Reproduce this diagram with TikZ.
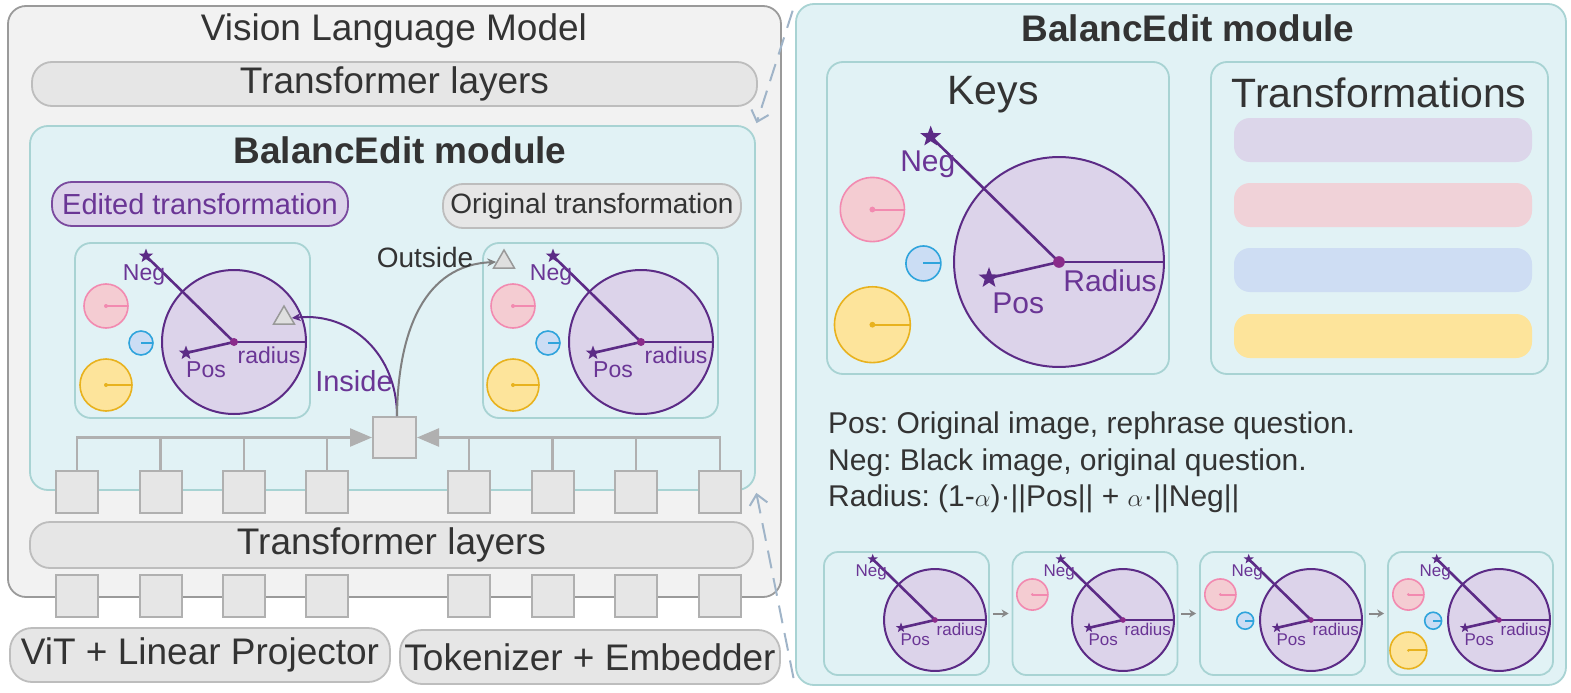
\documentclass[tikz,border=0pt]{standalone}
\usepackage{fontspec}
\setmainfont{Liberation Sans}
\frenchspacing
\usetikzlibrary{shapes.geometric,arrows.meta}
\newcommand\fsz[1]{\fontsize{#1}{#1}\selectfont}
\definecolor{txt}{HTML}{333333}
\definecolor{vlmfill}{HTML}{F2F2F2}
\definecolor{vlmdraw}{HTML}{9A9A9A}
\definecolor{pillfill}{HTML}{E6E6E6}
\definecolor{pilldraw}{HTML}{BDBDBD}
\definecolor{modfill}{HTML}{E1F2F5}
\definecolor{moddraw}{HTML}{A8D3D3}
\definecolor{purp}{HTML}{5C2B86}
\definecolor{purptxt}{HTML}{6A3595}
\definecolor{purpfill}{HTML}{DCD3EA}
\definecolor{purpdraw}{HTML}{7A4A9E}
\definecolor{purpdot}{HTML}{8A2B8A}
\definecolor{pinkfill}{HTML}{F4CCD2}
\definecolor{pinkdraw}{HTML}{F28AB0}
\definecolor{bluefill}{HTML}{CBDDF4}
\definecolor{bluedraw}{HTML}{2FA4DC}
\definecolor{yelfill}{HTML}{FDE49B}
\definecolor{yeldraw}{HTML}{E8B21E}
\definecolor{dashc}{HTML}{A0B4C8}
\definecolor{tokfill}{HTML}{E6E6E6}
\definecolor{tokdraw}{HTML}{B0B0B0}
\definecolor{barlav}{HTML}{DCD6EA}
\definecolor{barpink}{HTML}{F0D2D8}
\definecolor{barblue}{HTML}{CEDDF3}
\definecolor{baryel}{HTML}{FDE49B}
\definecolor{arrgray}{HTML}{888888}
\tikzset{
  vlmbox/.style={draw=vlmdraw, fill=vlmfill, line width=1.8pt, rounded corners=18pt, inner sep=0},
  pill/.style={draw=pilldraw, fill=pillfill, line width=1.8pt, rounded corners=20pt, inner sep=0, text=txt},
  editpill/.style={draw=purpdraw, fill=purpfill, line width=1.8pt, rounded corners=20pt, inner sep=0, text=purptxt},
  modbox/.style={draw=moddraw, fill=modfill, line width=1.8pt, rounded corners=18pt, inner sep=0},
  keybox/.style={draw=moddraw, fill=modfill, line width=1.8pt, rounded corners=16pt, inner sep=0},
  token/.style={draw=tokdraw, fill=tokfill, line width=2pt, minimum width=42, minimum height=42, inner sep=0},
  tokline/.style={draw=tokdraw, line width=2.5pt},
  bigarrow/.style={-{Triangle[length=22pt,width=18pt]}},
  bar/.style={rounded corners=16pt, minimum width=298, minimum height=44, inner sep=0, draw=none},
  plain/.style={text=txt, inner sep=0},
  bigball/.style={draw=purp, fill=purpfill, line width=2pt},
  keyline/.style={draw=purp, line width=2.6pt},
  keystar/.style={star, star points=5, star point ratio=2.4, fill=purp, draw=none, inner sep=0},
  keylbl/.style={text=purptxt, inner sep=0},
  pinkball/.style={draw=pinkdraw, fill=pinkfill, line width=1.6pt},
  blueball/.style={draw=bluedraw, fill=bluefill, line width=1.6pt},
  yelball/.style={draw=yeldraw, fill=yelfill, line width=1.6pt},
  tri/.style={regular polygon, regular polygon sides=3, minimum size=24, inner sep=0, draw=gray!80, fill=gray!25, line width=1.5pt},
  zoomline/.style={draw=dashc, line width=2pt, dash pattern=on 18pt off 10pt, -{Straight Barb[length=10pt,width=18pt]}},
  smallarrow/.style={draw=arrgray, line width=2pt, -{Stealth[length=7pt,width=8pt]}, shorten <=3pt, shorten >=3pt}
}
% #1 cx, #2 cy, #3 scale, #4 font size, #5 name prefix, #6 number of small keys, #7 radius word
\newcommand\keyball[7]{%
\begin{scope}[shift={(#1,#2)}, scale=#3]
  \ifnum#6>0 \draw[pinkball] (-128,-36) circle (22); \draw[draw=pinkdraw, line width=2pt] (-128,-36) -- (-106,-36); \fill[pinkdraw] (-128,-36) circle (2);\fi
  \ifnum#6>1 \draw[blueball] (-93,1) circle (12); \draw[draw=bluedraw, line width=2pt] (-93,1) -- (-81,1);\fi
  \ifnum#6>2 \draw[yelball] (-128,43) circle (26); \draw[draw=yeldraw, line width=2pt] (-128,43) -- (-102,43); \fill[yeldraw] (-128,43) circle (2);\fi
  \draw[bigball] (0,0) circle (72);
  \coordinate (#5c) at (0,0);
  \coordinate (#5r) at (72,0);
  \node[keystar, minimum size={#3*15pt}] (#5neg) at (-88,-86) {};
  \node[keystar, minimum size={#3*15pt}] (#5pos) at (-48,11) {};
  \draw[keyline] (#5c) -- (#5neg.center);
  \draw[keyline] (#5c) -- (#5pos.center);
  \draw[keyline] (#5c) -- (#5r);
  \fill[purpdot] (#5c) circle (4);
  \node[keylbl, font=\fsz{#4}] (#5negl) at (-90,-67) {Neg};
  \node[keylbl, font=\fsz{#4}] (#5posl) at (-28,28) {Pos};
  \node[keylbl, font=\fsz{#4}] (#5radl) at (35,13) {#7};
\end{scope}}
\begin{document}
\begin{tikzpicture}[x=1pt, y=-1pt]
\useasboundingbox (0,0) rectangle (1571,693);

% ---------- Vision Language Model ----------
\node[vlmbox, minimum width=773, minimum height=591] (vlm) at (394.5,301.5) {};
\node[plain, font=\fsz{37}, anchor=base] (vlmtitle) at (394,41) {Vision Language Model};
\node[pill, minimum width=725, minimum height=44, font=\fsz{37}] (tltop) at (394.5,84) {Transformer layers};

\node[modbox, minimum width=725, minimum height=364] (lmod) at (392.5,308) {};
\node[plain, font=\bfseries\fsz{37}] (lmodtitle) at (400,150) {BalancEdit module};
\node[editpill, minimum width=296, minimum height=44, font=\fsz{29}] (edited) at (200,204) {Edited transformation};
\node[pill, minimum width=298, minimum height=44, font=\fsz{28}] (orig) at (592,206) {Original transformation};

\node[keybox, minimum width=235, minimum height=175] (lkeys) at (192.5,330.5) {};
\node[keybox, minimum width=235, minimum height=175] (rkeys) at (600.5,330.5) {};
\keyball{234}{342}{1}{23}{la}{3}{radius}
\keyball{641}{342}{1}{23}{ra}{3}{radius}

\node[tri] (tin) at (284,318) {};
\node[tri] (tout) at (504,262) {};
\node[token, minimum width=43, minimum height=41] (sq) at (394.5,437.5) {};
\draw[draw=purp, line width=2pt, -{Stealth[length=9pt,width=8pt]}] ([xshift=2.5pt]sq.north) .. controls (397,355) and (352,312) .. (tin.east);
\draw[draw=gray, line width=2pt, -{Stealth[length=9pt,width=8pt]}] ([xshift=2.5pt]sq.north) .. controls (398,330) and (425,265) .. (tout.west);
\node[keylbl, font=\fsz{29}] (inl) at (354,381) {Inside};
\node[plain, font=\fsz{28}] (outl) at (425,257) {Outside};

% upper token row
\foreach \i/\x in {1/77,2/160.5,3/244,4/327,5/469,6/552.5,7/636,8/720}
  \node[token] (u\i) at (\x,492) {};
\draw[tokline, bigarrow] (u1.north) |- (sq.west);
\foreach \i in {2,3,4} \draw[tokline] (u\i.north) -- (u\i.north |- sq.west);
\draw[tokline, bigarrow] (u8.north) |- (sq.east);
\foreach \i in {5,6,7} \draw[tokline] (u\i.north) -- (u\i.north |- sq.east);

\node[pill, minimum width=723, minimum height=46, font=\fsz{37}] (tlbot) at (391.5,545) {Transformer layers};
\foreach \i/\x in {1/77,2/160.5,3/244,4/327,5/469,6/552.5,7/636,8/720}
  \node[token] (d\i) at (\x,596) {};

\node[pill, minimum width=380, minimum height=54, rounded corners=22pt, font=\fsz{37}] (vit) at (200,655) {ViT + Linear Projector};
\node[pill, minimum width=380, minimum height=54, rounded corners=22pt, font=\fsz{37}] (tok) at (590,657) {Tokenizer + Embedder};

% ---------- right BalancEdit module ----------
\node[modbox, minimum width=770, minimum height=681] (rmod) at (1181,344.5) {};
\node[plain, font=\bfseries\fsz{37}] (rmodtitle) at (1188,28) {BalancEdit module};
\node[keybox, minimum width=342, minimum height=312] (keys) at (998,218) {};
\node[plain, font=\fsz{41}] (keyslbl) at (993,95) {Keys};
\keyball{1059}{262}{1.458}{30}{ka}{3}{Radius}
\node[keybox, minimum width=337, minimum height=312] (trans) at (1379.5,218) {};
\node[plain, font=\fsz{41}] (translbl) at (1379,93) {Transformations};
\node[bar, fill=barlav] (b1) at (1383,140) {};
\node[bar, fill=barpink] (b2) at (1383,205) {};
\node[bar, fill=barblue] (b3) at (1383,270) {};
\node[bar, fill=baryel] (b4) at (1383,336) {};

\node[plain, anchor=base west, font=\fsz{30}] (posdef) at (828,433) {Pos: Original image, rephrase question.};
\node[plain, anchor=base west, font=\fsz{30}] (negdef) at (828,470) {Neg: Black image, original question.};
\node[plain, anchor=base west, font=\fsz{30}] (raddef) at (828,506) {Radius: (1-$\alpha$)·||Pos|| + $\alpha$·||Neg||};

\foreach \i/\x in {1/906.5,2/1095,3/1282.5,4/1470.5}
  \node[keybox, rounded corners=14pt, minimum width=165, minimum height=123] (sp\i) at (\x,613.5) {};
\keyball{935}{620}{0.708}{17}{sa}{0}{radius}
\keyball{1123}{620}{0.708}{17}{sb}{1}{radius}
\keyball{1311}{620}{0.708}{17}{sc}{2}{radius}
\keyball{1499}{620}{0.708}{17}{sd}{3}{radius}
\draw[smallarrow] (sp1.east) -- (sp2.west);
\draw[smallarrow] (sp2.east) -- (sp3.west);
\draw[smallarrow] (sp3.east) -- (sp4.west);

% zoom lines
\draw[zoomline, shorten <=8pt, shorten >=2pt] (rmod.north west) -- (lmod.north east);
\draw[zoomline, shorten <=8pt, shorten >=2pt] (rmod.south west) -- (lmod.south east);
\end{tikzpicture}
\end{document}
